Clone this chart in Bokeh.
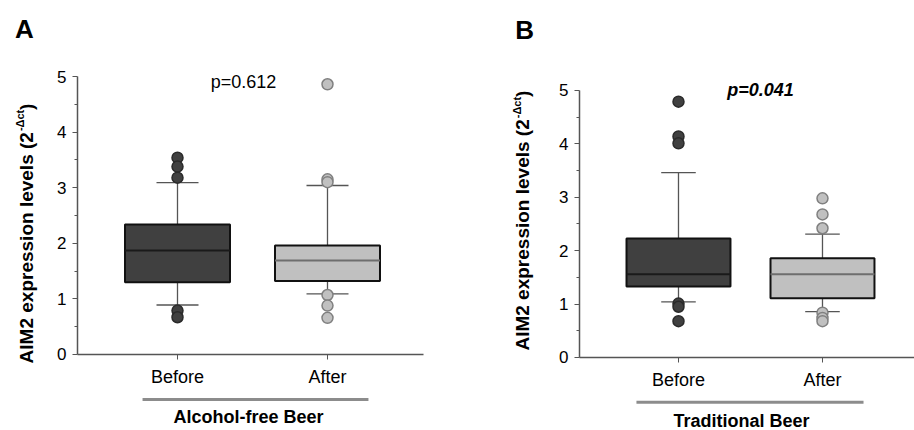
import math
from bokeh.plotting import figure
from bokeh.layouts import row
from bokeh.models import Range1d, FixedTicker, Label, Arrow
from bokeh.embed import file_html
from bokeh.resources import INLINE

# ---------------- data ----------------
categories = ["Before", "After"]
positions = [1, 2]

a_q1 = [1.30, 1.32]
a_med = [1.87, 1.69]
a_q3 = [2.34, 1.96]
a_lo = [0.89, 1.09]
a_hi = [3.09, 3.04]
a_out_before = [3.54, 3.38, 3.18, 0.79, 0.67]
a_out_after = [4.86, 3.15, 3.10, 1.07, 0.88, 0.66]

b_q1 = [1.33, 1.11]
b_med = [1.56, 1.56]
b_q3 = [2.23, 1.86]
b_lo = [1.04, 0.86]
b_hi = [3.46, 2.31]
b_out_before = [4.79, 4.14, 4.01, 1.01, 0.95, 0.68]
b_out_after = [2.98, 2.68, 2.42, 0.84, 0.74, 0.68]

y_ticks = [0, 1, 2, 3, 4, 5]
y_minor = [0.5, 1.5, 2.5, 3.5, 4.5]

FONT = "Liberation Sans"
BOX_FILL = ["#404040", "#c0c0c0"]
MED_COL = ["#1a1a1a", "#6e6e6e"]
OUT_LINE = ["#2a2a2a", "#808080"]


def panel(q1, med, q3, lo, hi, outs, view_x, view_y, ax_x, box_w, cap_w,
          pval, pval_xy, pval_style, ul, group, group_xy, letter, letter_xy, ylab_xy):
    p = figure(width=457, height=430, x_range=Range1d(*view_x), y_range=Range1d(*view_y),
               output_backend="svg", toolbar_location=None, title=None,
               min_border_left=0, min_border_right=0, min_border_top=0, min_border_bottom=0)
    p.grid.visible = False
    p.outline_line_color = None
    p.background_fill_color = "white"

    # axes placed at fixed data locations, with bounded lines
    p.xaxis.fixed_location = 0
    p.xaxis.bounds = ax_x
    p.yaxis.fixed_location = ax_x[0]
    p.yaxis.bounds = (0, 5)
    p.xaxis.ticker = FixedTicker(ticks=positions)
    p.xaxis.major_label_overrides = {pos: c for pos, c in zip(positions, categories)}
    p.yaxis.ticker = FixedTicker(ticks=y_ticks, minor_ticks=y_minor)
    for ax in (p.xaxis[0], p.yaxis[0]):
        ax.axis_line_color = "#555555"
        ax.axis_line_width = 1.5
        ax.major_tick_line_color = "#555555"
        ax.minor_tick_line_color = "#555555"
        ax.major_tick_in = 0
        ax.major_tick_out = 5
        ax.minor_tick_in = 0
        ax.minor_tick_out = 3
        ax.major_label_text_font = FONT
        ax.major_label_text_color = "black"
    p.xaxis.major_label_text_font_size = "18px"
    p.xaxis.major_label_standoff = 8
    p.yaxis.major_label_text_font_size = "17px"
    p.yaxis.major_label_standoff = 6
    p.xaxis.minor_tick_line_color = None

    # whiskers
    p.segment(x0=positions, y0=q3, x1=positions, y1=hi, line_color="#555555", line_width=1.3)
    p.segment(x0=positions, y0=q1, x1=positions, y1=lo, line_color="#555555", line_width=1.3)
    xl = [x - cap_w / 2 for x in positions]
    xr_ = [x + cap_w / 2 for x in positions]
    p.segment(x0=xl, y0=hi, x1=xr_, y1=hi, line_color="#555555", line_width=1.3)
    p.segment(x0=xl, y0=lo, x1=xr_, y1=lo, line_color="#555555", line_width=1.3)

    # boxes
    p.vbar(x=positions, bottom=q1, top=q3, width=box_w, fill_color=BOX_FILL,
           line_color="#111111", line_width=2)
    bl = [x - box_w / 2 for x in positions]
    br = [x + box_w / 2 for x in positions]
    p.segment(x0=bl, y0=med, x1=br, y1=med, line_color=MED_COL, line_width=2)

    # outliers
    for i, vals in enumerate(outs):
        p.scatter(x=[positions[i]] * len(vals), y=vals, size=11,
                  fill_color=BOX_FILL[i], line_color=OUT_LINE[i], line_width=1.5)

    # p-value
    p.add_layout(Label(x=pval_xy[0], y=pval_xy[1], text=pval, text_font=FONT,
                       text_font_size="18px", text_font_style=pval_style,
                       text_align="center", text_baseline="middle", text_color="black"))
    # group underline + label
    p.add_layout(Arrow(end=None, x_start=ul[0], y_start=ul[2], x_end=ul[1], y_end=ul[2],
                       line_color="#8c8c8c", line_width=3))
    p.add_layout(Label(x=group_xy[0], y=group_xy[1], text=group, text_font=FONT,
                       text_font_size="18px", text_font_style="bold",
                       text_align="center", text_baseline="middle", text_color="black"))
    # panel letter
    p.add_layout(Label(x=letter_xy[0], y=letter_xy[1], text=letter, text_font=FONT,
                       text_font_size="26px", text_font_style="bold",
                       text_align="center", text_baseline="middle", text_color="black"))
    # y-axis label with superscript
    main_fs, sup_fs = 19, 11
    w_main = 12.172 * main_fs
    w_sup = 1.834 * sup_fs
    p.add_layout(Label(x=ylab_xy[0], y=ylab_xy[1], text="AIM2 expression levels (2",
                       angle=math.pi / 2, text_font=FONT, text_font_size=f"{main_fs}px",
                       text_font_style="bold", text_align="left", text_baseline="middle",
                       text_color="black"))
    p.add_layout(Label(x=ylab_xy[0], y=ylab_xy[1], text="-Δct", x_offset=-6, y_offset=w_main + 1,
                       angle=math.pi / 2, text_font=FONT, text_font_size=f"{sup_fs}px",
                       text_font_style="bold", text_align="left", text_baseline="middle",
                       text_color="black"))
    p.add_layout(Label(x=ylab_xy[0], y=ylab_xy[1], text=")", y_offset=w_main + w_sup + 2,
                       angle=math.pi / 2, text_font=FONT, text_font_size=f"{main_fs}px",
                       text_font_style="bold", text_align="left", text_baseline="middle",
                       text_color="black"))
    return p


pa = panel(a_q1, a_med, a_q3, a_lo, a_hi, [a_out_before, a_out_after],
           view_x=(-0.18, 2.8667), view_y=(-1.367, 6.367), ax_x=(0.333, 2.64),
           box_w=0.70, cap_w=0.28,
           pval="p=0.612", pval_xy=(1.44, 4.91), pval_style="normal",
           ul=(0.767, 2.273, -0.81), group="Alcohol-free Beer", group_xy=(1.473, -1.13),
           letter="A", letter_xy=(-0.02, 5.86), ylab_xy=(-0.007, -0.16))

pb = panel(b_q1, b_med, b_q3, b_lo, b_hi, [b_out_before, b_out_after],
           view_x=(-0.5347, 2.639), view_y=(-1.367, 6.685), ax_x=(0.3125, 2.639),
           box_w=0.722, cap_w=0.24,
           pval="p=0.041", pval_xy=(1.57, 5.0), pval_style="bold italic",
           ul=(0.708, 2.285, -0.84), group="Traditional Beer", group_xy=(1.4375, -1.18),
           letter="B", letter_xy=(-0.069, 6.14), ylab_xy=(-0.083, 0.13))

layout = row(pa, pb)
open("out.html", "w").write(file_html(layout, INLINE))
